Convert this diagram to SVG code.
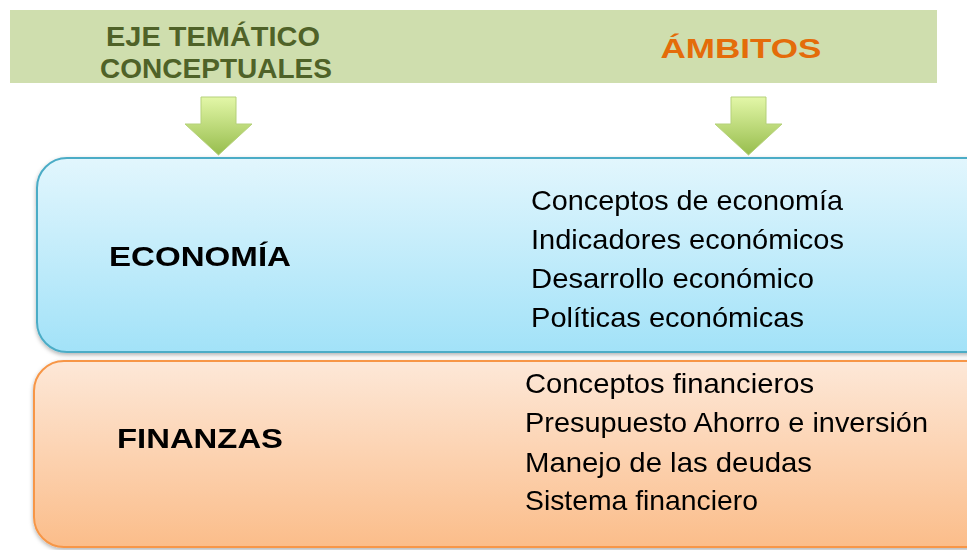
<svg xmlns="http://www.w3.org/2000/svg" width="967" height="550" viewBox="0 0 967 550">
<defs>
<linearGradient id="gArrow" x1="0" y1="0" x2="0" y2="1"><stop offset="0" stop-color="#e3f7a8"/><stop offset="1" stop-color="#97bd4d"/></linearGradient>
<linearGradient id="gBlue" x1="0" y1="0" x2="0" y2="1"><stop offset="0" stop-color="#e2f6fd"/><stop offset="1" stop-color="#a2e2f8"/></linearGradient>
<linearGradient id="gOrange" x1="0" y1="0" x2="0" y2="1"><stop offset="0" stop-color="#fde8d8"/><stop offset="1" stop-color="#fbbd8a"/></linearGradient>
<filter id="sh" x="-5%" y="-5%" width="110%" height="115%"><feDropShadow dx="0" dy="2" stdDeviation="2" flood-color="#000" flood-opacity="0.3"/></filter>
</defs>
<style>
.hdr{font-family:"Liberation Sans",Arial,sans-serif;font-weight:bold;font-size:28px}
.ttl{font-family:"Liberation Sans",Arial,sans-serif;font-weight:bold;font-size:28px;fill:#000}
.itm{font-family:"Liberation Sans",Arial,sans-serif;font-size:28px;fill:#000}
.arrow{fill:url(#gArrow);stroke:#b5d17a;stroke-width:1}
</style>
<g id="header">
<rect x="10" y="10" width="927" height="73" fill="#cfdeae"/>
<text class="hdr" x="213" y="46" text-anchor="middle" fill="#4f6228" textLength="214" lengthAdjust="spacingAndGlyphs">EJE TEMÁTICO</text>
<text class="hdr" x="216" y="78" text-anchor="middle" fill="#4f6228" textLength="232" lengthAdjust="spacingAndGlyphs">CONCEPTUALES</text>
<text class="hdr" x="741" y="58" text-anchor="middle" fill="#e46c0a" textLength="161" lengthAdjust="spacingAndGlyphs">ÁMBITOS</text>
</g>
<g id="connectors">
<path class="arrow" d="M201,97 H236 V124 H252 L218.5,155 L185,124 H201 Z"/>
<path class="arrow" d="M731,97 H766 V124 H782 L748.5,155 L715,124 H731 Z"/>
</g>
<g id="economia" filter="url(#sh)">
<rect x="37" y="158" width="960" height="194" rx="30" ry="30" fill="url(#gBlue)" stroke="#4bacc6" stroke-width="2"/>
<text class="ttl" x="109" y="266" textLength="182" lengthAdjust="spacingAndGlyphs">ECONOMÍA</text>
<text class="itm" x="531" y="210" textLength="312" lengthAdjust="spacingAndGlyphs">Conceptos de economía</text>
<text class="itm" x="531" y="249" textLength="313" lengthAdjust="spacingAndGlyphs">Indicadores económicos</text>
<text class="itm" x="531" y="288" textLength="283" lengthAdjust="spacingAndGlyphs">Desarrollo económico</text>
<text class="itm" x="531" y="327" textLength="273" lengthAdjust="spacingAndGlyphs">Políticas económicas</text>
</g>
<g id="finanzas" filter="url(#sh)">
<rect x="34" y="361" width="963" height="186" rx="30" ry="30" fill="url(#gOrange)" stroke="#f79646" stroke-width="2"/>
<text class="ttl" x="117" y="448" textLength="166" lengthAdjust="spacingAndGlyphs">FINANZAS</text>
<text class="itm" x="525" y="393" textLength="289" lengthAdjust="spacingAndGlyphs">Conceptos financieros</text>
<text class="itm" x="525" y="432" textLength="403" lengthAdjust="spacingAndGlyphs">Presupuesto Ahorro e inversión</text>
<text class="itm" x="525" y="472" textLength="287" lengthAdjust="spacingAndGlyphs">Manejo de las deudas</text>
<text class="itm" x="525" y="510" textLength="233" lengthAdjust="spacingAndGlyphs">Sistema financiero</text>
</g>
</svg>
